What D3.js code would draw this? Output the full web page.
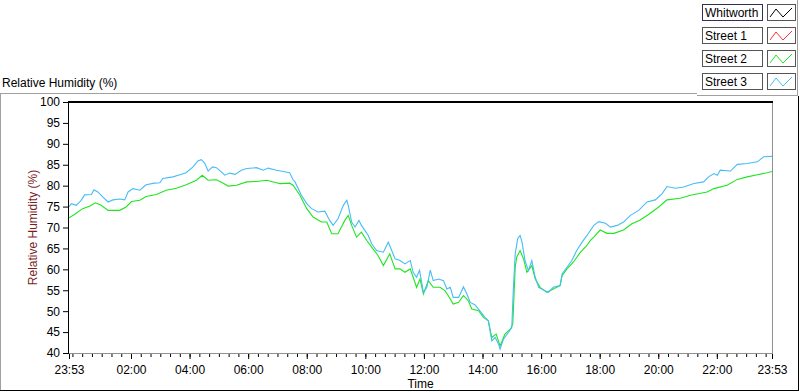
<!DOCTYPE html>
<html>
<head>
<meta charset="utf-8">
<script src="https://cdn.jsdelivr.net/npm/d3@7"></script>
<style>
  body { margin: 0; background: #fff; }
  svg { display: block; font-family: "Liberation Sans", Arial, sans-serif; font-size: 12px; }
</style>
</head>
<body>
<div id="chart"></div>
<script>
// series names shown in the legend
var seriesNames = ["Whitworth", "Street 1", "Street 2", "Street 3"];
var seriesColors = ["#000000", "#ff3030", "#1ee61e", "#45bdf7"];

// minutes after 23:53 and relative humidity (%)
var whitworthTime = [];
var whitworthRH = [];
var street1Time = [];
var street1RH = [];

var street2Time = [0, 11, 28, 42, 54, 66, 80, 104, 117, 128, 145, 158, 179, 199, 220, 240, 261, 273, 285, 302,
  316, 326, 343, 364, 384, 405, 425, 432, 452, 459, 473, 487, 500, 517, 528, 538, 551, 565, 572, 579,
  589, 599, 610, 620, 633, 644, 657, 668, 678, 688, 699, 705, 712, 719, 726, 736, 746, 760, 770, 777,
  787, 798, 808, 818, 825, 839, 849, 859, 866, 875, 883, 893, 904, 909, 914, 917, 924, 931, 938, 948,
  955, 965, 979, 992, 1006, 1010, 1020, 1033, 1047, 1061, 1068, 1075, 1088, 1102, 1116, 1136, 1153, 1170, 1187, 1208,
  1225, 1252, 1273, 1307, 1321, 1348, 1369, 1389, 1410, 1430, 1440];
var street2RH = [72.3, 73.1, 74.5, 75.1, 75.9, 75.3, 74.1, 74.1, 74.9, 76.2, 76.5, 77.4, 77.9, 78.9, 79.4, 80.2, 81.3, 82.5, 81.3, 81.4,
  80.6, 79.9, 80.1, 80.9, 81.0, 81.3, 80.7, 80.5, 80.6, 80.1, 77.7, 74.5, 72.5, 71.3, 71.3, 68.5, 68.5, 71.7, 72.9, 70.5,
  67.7, 68.9, 66.9, 65.3, 63.3, 60.9, 63.7, 60.1, 60.1, 59.3, 60.1, 58.1, 55.7, 57.7, 54.1, 57.3, 55.7, 55.7, 54.9, 53.7,
  51.7, 52.1, 53.7, 52.5, 50.5, 50.1, 48.5, 47.7, 43.7, 44.5, 41.7, 44.5, 45.7, 46.9, 60.5, 62.9, 64.5, 62.5, 59.3, 60.9,
  57.7, 55.7, 54.5, 55.3, 56.1, 58.5, 60.1, 61.7, 64.0, 65.7, 66.9, 67.7, 69.4, 68.6, 68.6, 69.4, 70.9, 71.8, 73.1, 74.9,
  76.6, 77.0, 77.7, 78.5, 79.3, 80.1, 81.5, 82.1, 82.6, 83.1, 83.4];

var street3Time = [0, 5, 15, 25, 32, 46, 51, 59, 69, 80, 90, 104, 114, 121, 131, 145, 158, 175, 186, 192,
  213, 227, 240, 254, 264, 271, 278, 285, 294, 302, 312, 319, 329, 340, 353, 364, 384, 398, 408, 425,
  439, 452, 459, 463, 476, 487, 497, 510, 524, 534, 541, 551, 562, 569, 572, 579, 586, 594, 599, 606,
  613, 620, 630, 644, 654, 661, 668, 678, 688, 699, 705, 712, 718, 726, 733, 740, 746, 757, 767, 774,
  781, 787, 798, 808, 815, 822, 832, 842, 852, 859, 866, 873, 880, 883, 890, 900, 907, 910, 914, 919,
  924, 928, 934, 941, 948, 955, 962, 975, 982, 992, 1006, 1010, 1020, 1030, 1040, 1051, 1061, 1075, 1085, 1099,
  1109, 1123, 1136, 1150, 1167, 1184, 1201, 1215, 1225, 1242, 1259, 1280, 1300, 1310, 1321, 1328, 1334, 1355, 1369, 1389,
  1410, 1423, 1440];
var street3RH = [75.0, 75.7, 75.3, 76.5, 77.8, 77.9, 79.0, 78.5, 77.3, 76.1, 76.6, 76.8, 76.6, 78.5, 79.3, 78.9, 80.2, 80.6, 80.7, 81.7,
  82.1, 82.6, 83.1, 84.5, 85.9, 86.2, 85.4, 83.5, 84.5, 84.3, 83.3, 82.5, 83.0, 82.7, 83.7, 84.1, 84.3, 83.7, 84.2, 83.7,
  83.4, 83.1, 81.4, 80.9, 77.7, 75.7, 74.5, 73.7, 73.9, 71.7, 70.5, 72.1, 75.3, 76.5, 75.3, 71.3, 70.1, 71.7, 70.5, 69.3,
  68.1, 66.1, 64.5, 64.1, 66.5, 64.5, 62.5, 62.1, 61.3, 62.1, 59.3, 58.1, 59.8, 54.5, 55.7, 59.8, 57.3, 57.7, 57.3, 55.3,
  55.7, 53.3, 53.3, 55.8, 54.1, 52.1, 51.5, 50.0, 48.5, 47.7, 42.9, 43.7, 42.1, 40.9, 43.3, 44.9, 46.1, 54.9, 63.7, 67.3,
  68.1, 66.5, 62.1, 59.7, 62.1, 58.1, 55.7, 54.9, 54.5, 55.7, 56.1, 58.9, 60.5, 62.1, 64.5, 66.5, 68.1, 70.5, 71.4, 71.0,
  70.1, 70.5, 71.3, 72.9, 74.1, 76.1, 76.6, 78.1, 79.8, 79.4, 79.7, 80.5, 80.9, 82.1, 82.9, 82.5, 83.7, 83.5, 85.1, 85.3,
  85.7, 86.9, 87.0];

var yTicks = [40, 45, 50, 55, 60, 65, 70, 75, 80, 85, 90, 95, 100];
var xTickLabels = ["23:53", "02:00", "04:00", "06:00", "08:00", "10:00", "12:00", "14:00", "16:00", "18:00", "20:00", "22:00", "23:53"];

var width = 800;
var height = 392;
var plot = { left: 69, right: 772, top: 102, bottom: 353 };

var start = new Date(2013, 0, 1, 23, 53);
var end = d3.timeMinute.offset(start, 1440);

var x = d3.scaleTime().domain([start, end]).range([plot.left, plot.right]);
var y = d3.scaleLinear().domain([40, 100]).range([plot.bottom, plot.top]);

var svg = d3.select("#chart").append("svg")
    .attr("width", width)
    .attr("height", height);

// outer panel frame
svg.append("line").attr("x1", 0).attr("x2", 697).attr("y1", 93.5).attr("y2", 93.5).attr("stroke", "#a0a0a0");
svg.append("line").attr("x1", 0.5).attr("x2", 0.5).attr("y1", 93).attr("y2", 391).attr("stroke", "#a0a0a0");
svg.append("line").attr("x1", 697).attr("x2", 797).attr("y1", 95.5).attr("y2", 95.5).attr("stroke", "#a0a0a0");
svg.append("line").attr("x1", 797.5).attr("x2", 797.5).attr("y1", 0).attr("y2", 96).attr("stroke", "#a0a0a0");
svg.append("line").attr("x1", 0).attr("x2", 799).attr("y1", 390.5).attr("y2", 390.5).attr("stroke", "#000");
svg.append("line").attr("x1", 798.5).attr("x2", 798.5).attr("y1", 96).attr("y2", 391).attr("stroke", "#000");

// plot label top-left
svg.append("text").attr("x", 2).attr("y", 87).attr("fill", "#000").text("Relative Humidity (%)");

// plot area borders
svg.append("line").attr("x1", plot.right + 0.5).attr("x2", plot.right + 0.5)
    .attr("y1", plot.top).attr("y2", plot.bottom).attr("stroke", "#909090");
svg.append("line").attr("x1", plot.left).attr("x2", plot.right + 1)
    .attr("y1", plot.bottom + 0.5).attr("y2", plot.bottom + 0.5).attr("stroke", "#909090");

// data lines
var line = d3.line()
    .x(d => x(d3.timeMinute.offset(start, d[0])))
    .y(d => y(d[1]));

var seriesData = [
  d3.zip(whitworthTime, whitworthRH),
  d3.zip(street1Time, street1RH),
  d3.zip(street2Time, street2RH),
  d3.zip(street3Time, street3RH)
];

svg.append("clipPath").attr("id", "clip").append("rect")
    .attr("x", plot.left).attr("y", plot.top).attr("width", plot.right - plot.left).attr("height", plot.bottom - plot.top);

svg.append("g").attr("clip-path", "url(#clip)")
  .selectAll("path")
  .data(seriesData)
  .join("path")
    .attr("d", d => d.length ? line(d) : null)
    .attr("fill", "none")
    .attr("stroke", (d, i) => seriesColors[i])
    .attr("stroke-width", 1.1);

// top border and left axis line
svg.append("line").attr("x1", plot.left - 1).attr("x2", plot.right + 1)
    .attr("y1", plot.top).attr("y2", plot.top).attr("stroke", "#000").attr("stroke-width", 2);
svg.append("line").attr("x1", plot.left - 0.5).attr("x2", plot.left - 0.5)
    .attr("y1", plot.top).attr("y2", plot.bottom + 1).attr("stroke", "#000");

// y axis
var yAxis = svg.append("g")
    .attr("transform", "translate(" + (plot.left - 1) + ",0)")
    .call(d3.axisLeft(y).tickValues(yTicks).tickSize(5).tickPadding(3));
yAxis.select(".domain").remove();
yAxis.selectAll("text").attr("fill", "#000").style("font-size", "12px").style("font-family", "'Liberation Sans', Arial, sans-serif");

svg.append("text")
    .attr("transform", "translate(37," + ((plot.top + plot.bottom) / 2) + ") rotate(-90)")
    .attr("text-anchor", "middle")
    .attr("fill", "#7a1f1f")
    .text("Relative Humidity (%)");

// x axis: minor ticks every 20 minutes
var minorTicks = d3.timeMinute.every(20).range(start, end);
var xMinor = svg.append("g")
    .attr("transform", "translate(0," + (plot.bottom + 1) + ")")
    .call(d3.axisBottom(x).tickValues(minorTicks).tickSize(3).tickFormat(""));
xMinor.select(".domain").remove();

// x axis: labelled ticks
var majorTicks = xTickLabels.map(function(lbl, i) {
  if (i === 0) return start;
  if (i === xTickLabels.length - 1) return end;
  var p = lbl.split(":");
  return new Date(2013, 0, 2, +p[0], +p[1]);
});
var xMajor = svg.append("g")
    .attr("transform", "translate(0," + (plot.bottom + 1) + ")")
    .call(d3.axisBottom(x).tickValues(majorTicks).tickSize(5).tickPadding(6)
      .tickFormat((d, i) => xTickLabels[i]));
xMajor.select(".domain").remove();
xMajor.selectAll("text").attr("fill", "#000").style("font-size", "12px").style("font-family", "'Liberation Sans', Arial, sans-serif");

svg.append("text")
    .attr("x", (plot.left + plot.right) / 2)
    .attr("y", 388)
    .attr("text-anchor", "middle")
    .attr("fill", "#000")
    .text("Time");

// legend
var legend = svg.append("g").selectAll("g")
    .data(seriesNames)
    .join("g")
    .attr("transform", (d, i) => "translate(0," + (4 + i * 23) + ")");

legend.append("rect")
    .attr("x", 702.5).attr("y", 0.5).attr("width", 60).attr("height", 16)
    .attr("fill", "#fff")
    .attr("stroke", (d, i) => i === 0 ? "#30305a" : "#555");
legend.append("text")
    .attr("x", 705).attr("y", 13)
    .attr("fill", "#000")
    .text(d => d);
legend.append("rect")
    .attr("x", 767.5).attr("y", 0.5).attr("width", 28).attr("height", 16)
    .attr("fill", "#fff")
    .attr("stroke", "#555");
legend.append("path")
    .attr("d", "M770,13L776,5L783,13L792,4")
    .attr("fill", "none")
    .attr("stroke", (d, i) => seriesColors[i]);
</script>
</body>
</html>
